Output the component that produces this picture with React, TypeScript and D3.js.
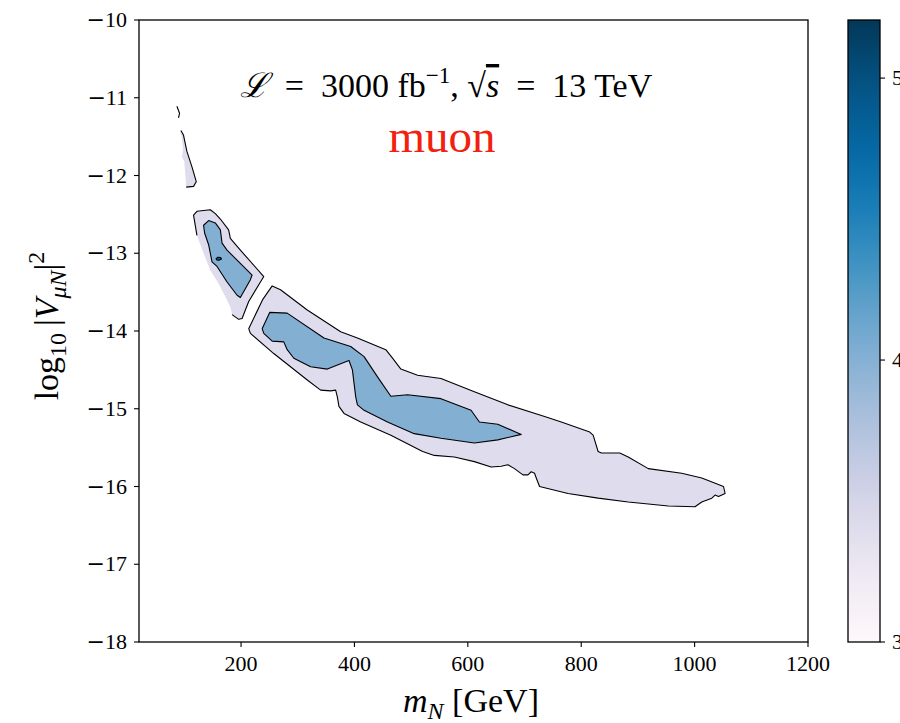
import React from 'react';
import * as d3 from 'd3';

// Figure geometry
const W = 900;
const H = 723;
const PLOT = { left: 139, right: 808, top: 20, bottom: 642 };
const CBAR = { left: 848, right: 880, top: 20, bottom: 642 };

// Axes
const xDomain: [number, number] = [20, 1200];
const yDomain: [number, number] = [-18, -10];
const xTicks = [200, 400, 600, 800, 1000, 1200];
const yTicks = [-18, -17, -16, -15, -14, -13, -12, -11, -10];

// Colour bar
const cbarDomain: [number, number] = [3, 5.206];
const cbarTicks = [3, 4, 5];

// Filled contour bands: colour value of each band
const levelLow = 3.4;
const levelMid = 4.02;
const levelHigh = 4.8;

// Contour outlines in (m_N [GeV], log10|V|^2)
const mainOuter: [number, number][] = [
  [254.9, -13.42], [269.6, -13.47], [316.8, -13.73], [375.7, -14.01], [405.3, -14.09],
  [455.3, -14.24], [467.2, -14.35], [481.9, -14.49], [511.4, -14.57], [552.6, -14.61],
  [611.5, -14.78], [670.6, -14.95], [735.4, -15.10], [764.9, -15.17], [815.0, -15.30],
  [821.0, -15.34], [829.8, -15.55], [835.7, -15.57], [868.0, -15.57], [882.9, -15.62],
  [918.3, -15.77], [977.2, -15.83], [1012.6, -15.89], [1051.0, -16.00], [1053.8, -16.09],
  [1048.0, -16.11], [1042.1, -16.13], [1036.1, -16.11], [1030.3, -16.15], [1012.6, -16.20],
  [1000.7, -16.26], [953.7, -16.25], [882.9, -16.20], [829.8, -16.15], [776.8, -16.09],
  [726.5, -16.00], [720.7, -15.89], [717.7, -15.83], [711.8, -15.81], [706.0, -15.85],
  [697.2, -15.85], [682.3, -15.77], [670.6, -15.72], [658.8, -15.74], [641.1, -15.75],
  [611.5, -15.68], [576.2, -15.62], [540.8, -15.60], [520.3, -15.55], [464.2, -15.34],
  [411.1, -15.17], [381.6, -15.06], [372.7, -14.97], [369.9, -14.85], [366.9, -14.76],
  [358.0, -14.77], [340.4, -14.76], [316.8, -14.63], [257.7, -14.29], [216.5, -14.03],
  [213.5, -13.97], [237.8, -13.60],
];

const mainInner: [number, number][] = [
  [250.7, -13.76], [281.4, -13.77], [346.2, -14.09], [393.4, -14.20], [417.0, -14.33],
  [440.7, -14.59], [464.2, -14.84], [493.7, -14.82], [552.6, -14.87], [605.7, -15.02],
  [620.4, -15.17], [652.9, -15.20], [694.2, -15.33], [652.9, -15.40], [611.5, -15.44],
  [552.6, -15.38], [505.4, -15.32], [458.3, -15.17], [417.0, -15.02], [405.3, -14.95],
  [402.3, -14.85], [396.4, -14.50], [390.4, -14.38], [375.7, -14.42], [352.2, -14.49],
  [322.7, -14.46], [293.1, -14.35], [281.4, -14.24], [275.4, -14.14], [254.9, -14.13],
  [240.1, -14.03], [237.2, -13.97],
];

const islandOuterLine: [number, number][] = [
  [122.2, -12.77], [116.2, -12.51], [122.2, -12.46], [145.8, -12.44], [154.6, -12.49],
  [163.5, -12.56], [178.1, -12.70], [181.1, -12.81], [198.8, -12.96], [240.1, -13.30],
  [234.2, -13.37], [213.5, -13.62], [201.8, -13.84], [195.8, -13.85], [184.2, -13.79],
];
const islandOuterEdge: [number, number][] = [
  [181.1, -13.69], [172.3, -13.56], [160.4, -13.39], [145.8, -13.22], [133.9, -13.00],
  [125.1, -12.83],
];

const islandInner: [number, number][] = [
  [133.9, -12.64], [142.8, -12.58], [154.6, -12.61], [163.5, -12.70], [166.5, -12.87],
  [175.3, -12.96], [219.5, -13.28], [216.5, -13.34], [198.8, -13.57], [193.0, -13.54],
  [175.3, -13.37], [157.6, -13.17], [148.8, -13.11], [142.8, -12.89], [135.7, -12.74],
];

const islandCore: [number, number][] = [
  [156.0, -13.070], [159.0, -13.052], [164.0, -13.056], [165.5, -13.075], [161.0, -13.090],
  [157.0, -13.085],
];

const sliverLine: [number, number][] = [
  [93.9, -11.42], [98.5, -11.48], [104.5, -11.69], [113.4, -11.89], [121.0, -12.08],
  [116.2, -12.14], [103.3, -12.15],
];
const sliverEdge: [number, number][] = [
  [101.5, -11.97], [99.8, -11.82], [95.7, -11.76], [97.5, -11.67], [95.7, -11.52],
  [92.7, -11.44],
];

const tipLine: [number, number][] = [
  [86.9, -11.11], [91.5, -11.20], [89.7, -11.26],
];

type Region = {
  level: number;
  line: [number, number][];
  edge?: [number, number][];
  open?: boolean;
};

const regions: Region[] = [
  { level: levelLow, line: mainOuter },
  { level: levelLow, line: islandOuterLine, edge: islandOuterEdge },
  { level: levelLow, line: sliverLine, edge: sliverEdge },
  { level: levelLow, line: tipLine, open: true },
  { level: levelMid, line: mainInner },
  { level: levelMid, line: islandInner },
  { level: levelHigh, line: islandCore },
];

const SERIF = "'Liberation Serif', 'DejaVu Serif', serif";
const MINUS_FONT = "'DejaVu Serif', serif";

// Tick label with a wide math minus sign
function TickText(props: { v: number; x: number; y: number; anchor: string }) {
  const { v, x, y, anchor } = props;
  return (
    <text x={x} y={y} textAnchor={anchor as any} fontSize={22} fontFamily={SERIF}>
      {v < 0 && <tspan fontFamily={MINUS_FONT}>{'\u2212'}</tspan>}
      <tspan>{String(Math.abs(v))}</tspan>
    </text>
  );
}

export default function App() {
  const x = d3.scaleLinear().domain(xDomain).range([PLOT.left, PLOT.right]);
  const y = d3.scaleLinear().domain(yDomain).range([PLOT.bottom, PLOT.top]);
  const c = d3.scaleLinear().domain(cbarDomain).range([CBAR.bottom, CBAR.top]);
  const color = d3.scaleSequential(d3.interpolatePuBu).domain(cbarDomain);

  const line = d3
    .line<[number, number]>()
    .x((d) => x(d[0]))
    .y((d) => y(d[1]));

  const stops = d3.range(0, 1.0001, 0.05).map((t) => ({
    t,
    col: color(cbarDomain[0] + t * (cbarDomain[1] - cbarDomain[0])),
  }));

  return (
    <svg
      width={W}
      height={H}
      style={{ position: 'absolute', left: 0, top: 0, background: '#fff' }}
    >
      <defs>
        <linearGradient id="cbar-grad" x1="0" y1="1" x2="0" y2="0">
          {stops.map((s) => (
            <stop key={s.t} offset={s.t} stopColor={s.col} />
          ))}
        </linearGradient>
        <clipPath id="plot-clip">
          <rect x={PLOT.left} y={PLOT.top} width={PLOT.right - PLOT.left} height={PLOT.bottom - PLOT.top} />
        </clipPath>
      </defs>

      <rect x={0} y={0} width={W} height={H} fill="#fff" />

      {/* contour bands */}
      <g clipPath="url(#plot-clip)">
        {regions
          .filter((r) => !r.open)
          .map((r, i) => (
            <path
              key={'f' + i}
              d={line(r.edge ? [...r.line, ...r.edge] : r.line) + 'Z'}
              fill={color(r.level)}
              stroke="none"
            />
          ))}
        {regions.map((r, i) => (
          <path
            key={'s' + i}
            d={line(r.line) + (r.edge || r.open ? '' : 'Z')}
            fill="none"
            stroke="#000"
            strokeWidth={1.1}
            strokeLinejoin="round"
          />
        ))}
      </g>

      {/* frame */}
      <rect
        x={PLOT.left}
        y={PLOT.top}
        width={PLOT.right - PLOT.left}
        height={PLOT.bottom - PLOT.top}
        fill="none"
        stroke="#000"
        strokeWidth={1.3}
      />

      {/* x axis */}
      {xTicks.map((t) => (
        <g key={'x' + t}>
          <line x1={x(t)} x2={x(t)} y1={PLOT.bottom} y2={PLOT.bottom + 5} stroke="#000" strokeWidth={1.1} />
          <TickText v={t} x={x(t)} y={PLOT.bottom + 29} anchor="middle" />
        </g>
      ))}

      {/* y axis */}
      {yTicks.map((t) => (
        <g key={'y' + t}>
          <line x1={PLOT.left - 5} x2={PLOT.left} y1={y(t)} y2={y(t)} stroke="#000" strokeWidth={1.1} />
          <TickText v={t} x={PLOT.left - 12} y={y(t) + 7} anchor="end" />
        </g>
      ))}

      {/* axis titles */}
      <text x={471} y={712} textAnchor="middle" fontSize={34} fontFamily={SERIF}>
        <tspan fontStyle="italic">m</tspan>
        <tspan fontStyle="italic" fontSize={24} dy={7}>N</tspan>
        <tspan dy={-7}>{' [GeV]'}</tspan>
      </text>
      <text transform={`translate(58, 326) rotate(-90)`} textAnchor="middle" fontSize={34} fontFamily={SERIF}>
        <tspan>log</tspan>
        <tspan fontSize={24} dy={8}>10</tspan>
        <tspan dy={-8}>{'\u2009|'}</tspan>
        <tspan fontStyle="italic">V</tspan>
        <tspan fontStyle="italic" fontSize={24} dy={8}>{'\u03bcN'}</tspan>
        <tspan dy={-8}>|</tspan>
        <tspan fontSize={24} dy={-14}>2</tspan>
      </text>

      {/* annotations */}
      <text x={446} y={97} textAnchor="middle" fontSize={34} fontFamily={SERIF}>
        <tspan fontFamily="'DejaVu Serif', serif" fontStyle="italic">{'\u2112'}</tspan>
        <tspan>{'\u2002=\u20023000 fb'}</tspan>
        <tspan fontSize={23} dy={-14}>{'\u22121'}</tspan>
        <tspan dy={14}>{', \u221a'}</tspan>
        <tspan fontStyle="italic" textDecoration="overline">s</tspan>
        <tspan>{'\u2002=\u200213 TeV'}</tspan>
      </text>
      <text x={442} y={152} textAnchor="middle" fontSize={47} fill="#f2200e" fontFamily={SERIF}>
        muon
      </text>

      {/* colour bar */}
      <rect
        x={CBAR.left}
        y={CBAR.top}
        width={CBAR.right - CBAR.left}
        height={CBAR.bottom - CBAR.top}
        fill="url(#cbar-grad)"
        stroke="#000"
        strokeWidth={1.3}
      />
      {cbarTicks.map((t) => (
        <g key={'c' + t}>
          <line x1={CBAR.right} x2={CBAR.right + 5} y1={c(t)} y2={c(t)} stroke="#000" strokeWidth={1.1} />
          <TickText v={t} x={CBAR.right + 12} y={c(t) + 7} anchor="start" />
        </g>
      ))}
    </svg>
  );
}
